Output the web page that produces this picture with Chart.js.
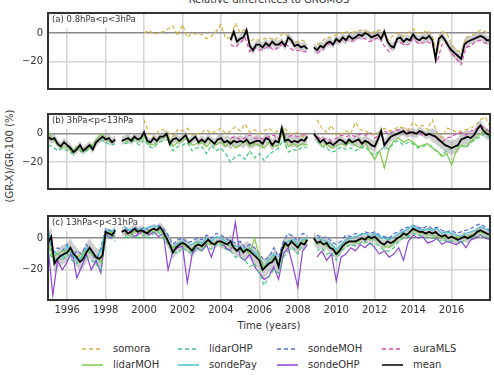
<!DOCTYPE html>
<html>
<head>
<meta charset="utf-8">
<script src="https://cdn.jsdelivr.net/npm/chart.js@4.4.1/dist/chart.umd.min.js"></script>
<style>
body { margin: 0; background: #fff; width: 494px; height: 379px; overflow: hidden; position: relative; font-family: "DejaVu Sans", sans-serif; color: #333; }
canvas { position: absolute; left: 0; }
.txt { position: absolute; font-size: 10px; white-space: nowrap; }
.leg { position: absolute; font-size: 10px; white-space: nowrap; height: 14px; line-height: 14px; }
.leg svg { position: absolute; left: 0; top: 5px; }
.leg span { position: absolute; left: 31px; top: 0; }
</style>
</head>
<body>
<div class="txt" style="left:0;width:538px;text-align:center;top:-6px;">Relative differences to GROMOS</div>
<div class="txt" style="left:9px;top:156px;transform:translate(-50%,-50%) rotate(-90deg);">(GR-X)/GR·100 (%)</div>
<div class="txt" style="left:0;width:538px;text-align:center;top:320px;">Time (years)</div>

<script>
// --- data ---
// x grid: mean curves 6 values per year, other series 4 per year
const yearTicks = [1996, 1998, 2000, 2002, 2004, 2006, 2008, 2010, 2012, 2014, 2016];
const yTicks = [-20, 0];

const names = ['somora', 'lidarMOH', 'lidarOHP', 'sondePay', 'sondeMOH', 'sondeOHP', 'auraMLS', 'mean'];
const colors = ['#d4b240', '#80c94a', '#3cc97c', '#45c3d3', '#4a6bd6', '#8c45d4', '#df48b4', '#000000'];
const dashed = [true, false, true, false, true, false, true, false];

// panel (a) 0.8hPa<p<3hPa
const meanA = [ // from 2004.5
  -5, 1, -6,
  -4, -3, 2, -9, -12, -8,
  -8, -10, -7, -9, -6, -8,
  -8, -6, -9, -3, -5, -9,
  -8, -10, -9, -11, null, -10,
  -12, -9, -10, -7, -6, -8,
  -4, -6, -3, -5, -2, -4,
  -3, -1, -2, 0, -1, -3,
  -2, -1, -4, 1, -6, -9,
  -10, -4, -3, -6, -4, -5,
  -1, -4, -5, -3, -4, -2,
  -5, -18, -4, -2, -5, -9,
  -12, -14, -16, -18, -8, -6,
  -5, -4, -3, -2, -3, -5,
  -5];
const somoraA = [ // from 2000.0
  0, 2, -1, 0,  1, 3, 5, -2,  6, -3, 0, -1,  -1, -4, -2, 1,  6, -4, -3, 7,
  0, 3, -6, -4,  -5, -4, -3, -5,  -3, 0, -2, -6,  -6, -5, -7, null,  -8, -6, -3, -3,
  -1, 0, 1, 0,  1, 2, 1, 0,  1, 2, -3, -5,  -1, 0, -2, 0,  3, 0, 0, 2,
  -2, -14, 1, 0,  -8, -12, -13, -3,  -2, 0, 2, 1,  -1];
const auraA = [ // from 2004.5
  -8, -10,
  -7, -3, -13, -10,  -12, -11, -9, -12,  -10, -7, -9, -12,  -12, -13, -13, null,
  -14, -12, -8, -7,  -6, -5, -4, -6,  -4, -3, -4, -6,  -4, -3, -9, -13,
  -7, -6, -8, -8,  -4, -7, -7, -6,  -8, -20, -8, -7,  -14, -18, -22, -10,
  -9, -6, -5, -7,  -7];
const spreadA = [0, 0, 0, 0, 0, 0, 0, 0, 0, 3, 3, 3, 3, 3, 3, 3, 3, 3, 3, 3, 3, 4, 3];

// panel (b) 3hPa<p<13hPa
const meanB = [ // from 1995.0
  -2, -4, -3, -7, -9, -6,
  -8, -10, -13, -11, -8, -12,
  -10, -8, -11, -6, -4, -2,
  -4, -3, -6, -4, null, -5,
  -4, -3, -5, -2, -4, -3,
  1, -5, -6, -3, -5, -2,
  -2, 0, -7, -4, -3, -5,
  -3, -1, -6, -4, -2, -6,
  -4, -6, -3, -5, -7, -4,
  -3, -6, -5, -7, -5, -6,
  -5, -6, -4, -7, -6, -5,
  -5, -7, -3, -4, -8, -5,
  -6, 4, -5, -4, -6, -5,
  -6, -4, -5, -2, null, 0,
  -3, -6, -4, -7, -6, -8,
  -6, -4, -5, -7, -4, -6,
  -5, -4, -7, -5, -6, -8,
  -9, -4, 2, -8, -5, -2,
  -1, 0, 1, 2, 0, 1,
  1, 0, 2, 1, -1, 0,
  -1, -2, -4, -6, -8, -9,
  -10, -9, -8, -4, -3, -2,
  -3, -1, 3, 6, 2, 0,
  -1];
const somoraB = [ // from 2000.0
  10, 0, -3, 2,  3, 1, -2, 3,  2, 4, -1, 0,  1, 3, 0, 2,  4, 0, 2, 5,
  2, 7, 1, 3,  0, 2, 4, 1,  2, 5, 1, 0,  1, -2, -1, null,  10, 4, 1, 6,
  -1, 0, 2, 0,  8, 3, 2, 0,  0, 1, 4, 2,  3, 5, 4, 3,  8, 5, 6, 3,
  10, 0, -3, 4,  3, 1, 2, 3,  4, 6, 10, 12,  5];
const lidarMOHB = [ // from 1995.0
  2, -4, -8, -10,  -9, -13, -9, -12,  -11, -9, -4, 0,  -3, -6, -5, null,  -6, -4, -3, -5,
  -2, -7, -8, -4,  -3, -1, -9, -6,  -5, -3, -8, -7,  -6, -9, -5, -8,  -6, -9, -5, -10,
  -8, -5, -9, -7,  -8, -10, -6, -9,  -8, 3, -9, -7,  -9, -7, -8, null,  -3, -9, -7, -10,
  -9, -7, -8, -6,  -8, -10, -5, -13,  -18, -12, -24, -10,  -5, -3, -6, -4,  -6, -9, -8, -7,
  -10, -12, -16, -14,  -22, -12, -8, -9,  -5, -3, 0, 3,  -2];
const lidarOHPB = [ // from 1995.0
  -8, -9, -12, -10,  -12, -14, -10, -13,  -12, -9, -6, -4,  -6, -8, -7, null,  -7, -6, -5, -8,
  -4, -9, -10, -6,  -5, -4, -12, -9,  -8, -6, -12, -10,  -9, -14, -8, -12,  -10, -14, -20, -16,
  -15, -18, -12, -17,  -14, -19, -15, -12,  -10, -4, -13, -11,  -12, -9, -10, null,  -5, -9, -10, -13,
  -12, -9, -11, -10,  -12, -10, -9, -13,  -15, -12, -9, -11,  -6, -5, -8, -6,  -7, -10, -9, -8,
  -9, -13, -15, -12,  -10, -9, -8, -10,  -6, -4, -2, 0,  -3];
const auraB = [ // from 2004.5
  -3, -2,
  -4, -3, -1, -3,  -3, -4, -2, -1,  -3, 0, -2, -1,  -2, -1, 0, null,
  -2, -4, -3, -5,  -3, -1, -2, -1,  -2, 0, -1, 1,  -3, -1, 2, 0,
  2, 3, 1, 2,  0, 1, -1, 0,  -1, -4, -6, -3,  -2, 0, 1, -1,
  2, 3, 6, 4,  1];
const spreadB = [3, 3, 3, 3, 3, 3, 3, 3, 3, 4, 4, 4, 4, 4, 3, 3, 4, 4, 3, 3, 5, 5, 4];

// panel (c) 13hPa<p<31hPa
const meanC = [ // from 1995.0
  -3, 1, -16, -13, -11, -10,
  -9, -6, -10, -12, -15, -13,
  -9, -6, -9, -12, -13, -11,
  4, 3, 2, 5, null, 4,
  5, 3, 4, 6, 4, 5,
  4, 3, 5, 6, 5, 7,
  4, 0, -4, -9, -6, -4,
  -3, -4, -6, -8, -5, -4,
  -5, -3, -1, -3, -4, -2,
  -2, -3, -4, -2, -6, -8,
  -6, -9, -7, -8, -10, -12,
  -14, -20, -18, -16, -15, -12,
  -18, -8, -3, -5, -2, -4,
  -6, -3, -4, -1, null, 0,
  -3, -2, -4, -3, -6, -7,
  -10, -8, -5, -3, -2, -2,
  -2, -1, 0, -1, 1, 0,
  1, -1, -3, -4, -2, -3,
  -2, 0, 1, 3, 2, 4,
  6, 5, 4, 4, 3, 4,
  3, 4, 2, 1, 2, 0,
  1, 0, -1, 0, 1, 0,
  1, 2, 4, 5, 4, 3,
  2];
const lidarMOHC = [ // from 1995.0
  -2, -12, -10, -8,  -8, -9, -12, -10,  -8, -10, -12, -15,  3, 4, 1, null,  3, 2, 4, 5,
  3, 5, 4, 6,  2, -3, -6, -5,  -4, -6, -7, -3,  -6, -3, -4, -2,  -3, -4, -5, -7,
  -8, -7, -10, 0,  -12, -18, -16, -12,  -16, -6, -4, -3,  -5, -2, -1, null,  -4, -3, -5, -6,
  -9, -6, -4, -2,  -3, -1, 0, -1,  -1, -2, -5, -6,  -3, 0, 2, 3,  5, 4, 3, 2,
  2, 1, 0, 1,  0, 1, 0, 1,  2, 3, 4, 3,  2];
const lidarOHPC = [ // from 1995.0
  -6, -14, -12, -14,  -10, -14, -16, -12,  -12, -14, -16, -20,  0, 2, -2, null,  1, 0, 2, 0,
  2, 0, 3, 4,  0, -4, -8, -10,  -6, -8, -9, -6,  -8, -5, -7, -4,  -4, -7, -8, -12,
  -12, -14, -18, -16,  -22, -30, -24, -20,  -22, -12, -8, -6,  -10, -4, -3, null,  -8, -6, -10, -9,
  -14, -8, -6, -4,  -5, -3, -2, -4,  -3, -5, -8, -8,  -6, -2, 0, 1,  3, 2, 1, 0,
  0, -1, -2, -1,  -2, -1, -3, -1,  0, 1, 2, 1,  0];
const sondePayC = [ // from 1995.0
  6, -8, -10, -12,  -5, -10, -14, -12,  -6, -10, -12, -8,  5, 4, 6, null,  7, 5, 6, 5,
  6, 7, 8, 7,  5, -2, -6, -3,  -2, -5, -4, -2,  -3, 0, -2, 1,  0, -2, -4, -5,
  -5, -8, -6, -9,  -12, -18, -14, -10,  -15, -4, -2, -1,  -4, -1, 0, null,  0, -1, -2, -4,
  -7, -4, -1, 0,  1, 2, 3, 1,  3, 1, 0, -1,  1, 3, 4, 6,  8, 6, 5, 6,
  5, 6, 3, 4,  3, 2, 1, 3,  4, 5, 7, 6,  4];
const sondeMOHC = [ // from 1995.0
  2, -10, -6, -8,  -4, -12, -8, -10,  -4, -8, -15, -6,  6, 5, 3, null,  6, 4, 7, 5,
  7, 5, 6, 8,  6, 2, -4, -1,  0, -3, -2, 0,  -1, 2, 0, 3,  2, 0, -2, -3,
  -2, -6, -4, -6,  -10, -14, -12, -6,  -12, -2, 3, 1,  -2, 3, 2, null,  2, 0, 1, -2,
  -4, -2, 2, 1,  3, 2, 4, 3,  4, 2, 1, 0,  3, 4, 6, 7,  8, 7, 6, 8,
  6, 7, 5, 4,  5, 3, 4, 5,  6, 8, 9, 7,  5];
const sondeOHPC = [ // from 1995.0
  -5, -36, -14, -20,  -15, -8, -25, -18,  -10, -20, -14, -22,  3, 0, 2, null,  2, 4, 1, 3,
  5, 2, 4, 1,  3, -20, -8, -6,  -5, -28, -10, -6,  -8, -4, -12, -3,  -2, -6, -8, 10,
  -12, -14, -10, -18,  -22, -26, -24, -18,  -26, -10, -6, -18,  -31, -8, -4, null,  -12, -8, -14, -10,
  -27, -12, -10, -6,  -8, -4, -6, -3,  -6, -10, -8, -12,  -10, -6, -14, -2,  2, 0, 1, -3,
  -2, 0, -4, -2,  -3, -4, -2, -6,  -1, 0, 2, 0,  -1];
const spreadC = [6, 6, 6, 3, 3, 3, 4, 4, 3, 4, 5, 6, 5, 4, 4, 3, 3, 3, 3, 3, 3, 3, 3];

// --- helpers ---
function pts(start, perYear, vals) {
  return vals.map((v, i) => ({ x: start + i / perYear, y: v }));
}
function bandPts(start, perYear, vals, spread, sign) {
  return vals.map((v, i) => {
    const x = start + i / perYear;
    const k = Math.min(spread.length - 1, Math.floor(x - 1995));
    return { x: x, y: v === null ? null : v + sign * spread[k] };
  });
}
function series(idx, start, perYear, vals) {
  return {
    label: names[idx],
    data: pts(start, perYear, vals),
    borderColor: colors[idx],
    borderWidth: 1.2,
    borderDash: dashed[idx] ? [4, 2.5] : [],
    pointRadius: 0,
    fill: false,
    order: 5
  };
}
function meanSet(start, vals) {
  return { label: 'mean', data: pts(start, 6, vals), borderColor: '#000', borderWidth: 1.8, pointRadius: 0, fill: false, order: 0 };
}
function bandSets(start, vals, spread) {
  return [
    { label: 'hi', data: bandPts(start, 6, vals, spread, 1), borderWidth: 0, pointRadius: 0, fill: '+1', backgroundColor: 'rgba(165,165,165,0.55)', order: 10 },
    { label: 'lo', data: bandPts(start, 6, vals, spread, -1), borderWidth: 0, pointRadius: 0, fill: false, order: 11 }
  ];
}

const font = { family: '"DejaVu Sans", sans-serif', size: 10 };

const panelDeco = {
  id: 'panelDeco',
  beforeDatasetsDraw(chart, args, opts) {
    const ctx = chart.ctx, a = chart.chartArea;
    ctx.save();
    ctx.font = '8.5px "DejaVu Sans"';
    const w = ctx.measureText(opts.text).width;
    ctx.fillStyle = '#fff';
    ctx.fillRect(a.left + 1, a.top + 1, w + 8, 14);
    ctx.fillStyle = '#333';
    ctx.textBaseline = 'middle';
    ctx.fillText(opts.text, a.left + 4, a.top + 7);
    ctx.restore();
  },
  afterDraw(chart) {
    const ctx = chart.ctx, a = chart.chartArea;
    ctx.save();
    ctx.strokeStyle = '#333';
    ctx.lineWidth = 2;
    ctx.strokeRect(a.left, a.top, a.right - a.left, a.bottom - a.top);
    ctx.restore();
  }
};

function makePanel(top, height, padTop, padBottom, showX, text, datasets) {
  const cv = document.createElement('canvas');
  cv.width = 494;
  cv.height = height;
  cv.style.top = top + 'px';
  document.body.appendChild(cv);
  return new Chart(cv, {
    type: 'line',
    data: { datasets: datasets },
    plugins: [panelDeco],
    options: {
      responsive: false,
      animation: false,
      devicePixelRatio: 1,
      layout: { padding: { top: padTop, bottom: padBottom, left: 0, right: 4 } },
      plugins: { legend: { display: false }, tooltip: { enabled: false }, panelDeco: { text: text } },
      scales: {
        x: {
          type: 'linear', min: 1995, max: 2018,
          afterBuildTicks: s => { s.ticks = yearTicks.map(v => ({ value: v })); },
          afterFit: s => { s.height = showX ? 30 : 0; },
          ticks: { display: showX, font: font, color: '#333', padding: 4, maxRotation: 0, autoSkip: false, callback: v => String(v) },
          grid: { color: '#d4d4d4', lineWidth: 1.5, drawTicks: false },
          border: { display: false }
        },
        y: {
          min: -39, max: 14,
          afterBuildTicks: s => { s.ticks = yTicks.map(v => ({ value: v })); },
          afterFit: s => { s.width = 48; },
          ticks: { font: font, color: '#333', padding: 5, callback: v => v < 0 ? '\u2212' + Math.abs(v) : String(v) },
          grid: { color: c => (c.tick && c.tick.value === 0) ? '#8a8a8a' : '#d4d4d4', lineWidth: 1.5, drawTicks: false },
          border: { display: false }
        }
      }
    }
  });
}

makePanel(0, 100, 13, 2, false, '(a) 0.8hPa<p<3hPa', [
  meanSet(2004.5, meanA),
  series(0, 2000, 4, somoraA),
  series(6, 2004.5, 4, auraA),
  ...bandSets(2004.5, meanA, spreadA)
]);

makePanel(100, 100, 14, 1, false, '(b) 3hPa<p<13hPa', [
  meanSet(1995, meanB),
  series(0, 2000, 4, somoraB),
  series(1, 1995, 4, lidarMOHB),
  series(2, 1995, 4, lidarOHPB),
  series(6, 2004.5, 4, auraB),
  ...bandSets(1995, meanB, spreadB)
]);

makePanel(200, 130, 16, 0, true, '(c) 13hPa<p<31hPa', [
  meanSet(1995, meanC),
  series(1, 1995, 4, lidarMOHC),
  series(2, 1995, 4, lidarOHPC),
  series(3, 1995, 4, sondePayC),
  series(4, 1995, 4, sondeMOHC),
  series(5, 1995, 4, sondeOHPC),
  ...bandSets(1995, meanC, spreadC)
]);

// legend, 4 columns filled column-wise
const legCols = [82, 178, 277, 382];
const legRows = [342, 358];
names.forEach((n, i) => {
  const col = Math.floor(i / 2), row = i % 2;
  const d = document.createElement('div');
  d.className = 'leg';
  d.style.left = legCols[col] + 'px';
  d.style.top = legRows[row] + 'px';
  const dash = dashed[i] ? ' stroke-dasharray="4,3"' : '';
  d.innerHTML = '<svg width="21" height="4"><line x1="0" y1="2" x2="21" y2="2" stroke="' + colors[i] +
    '" stroke-width="1.5"' + dash + '/></svg><span>' + n + '</span>';
  document.body.appendChild(d);
});
</script>
</body>
</html>
